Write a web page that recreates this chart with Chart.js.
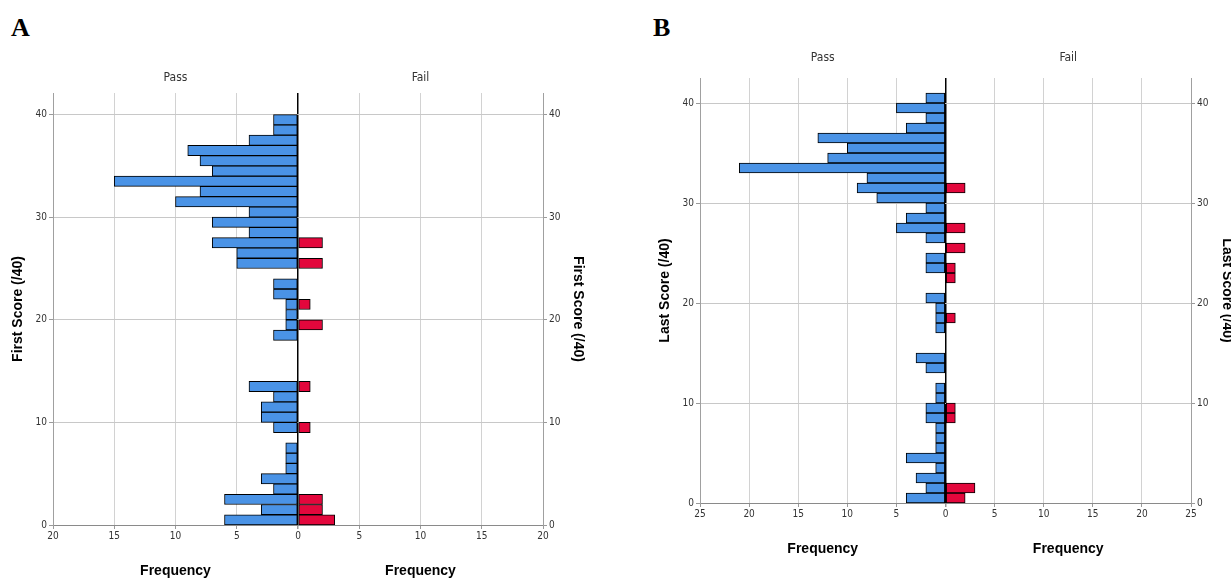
<!DOCTYPE html>
<html>
<head>
<meta charset="utf-8">
<script src="https://cdn.jsdelivr.net/npm/chart.js@4.4.1/dist/chart.umd.min.js"></script>
<style>
  html, body { margin: 0; padding: 0; background: #fff; overflow: hidden; width: 1231px; height: 581px; }
  .panel { position: absolute; }
  .tag { position: absolute; font: bold 26px 'Liberation Serif', 'Times New Roman', serif; color: #000; line-height: 30px; }
</style>
</head>
<body>
<div class="tag" style="left:11px; top:13px;">A</div>
<div class="tag" style="left:653px; top:13px;">B</div>
<div class="panel" style="left:0; top:62px; width:600px; height:519px;"><canvas id="chartA"></canvas></div>
<div class="panel" style="left:640px; top:41px; width:600px; height:524px;"><canvas id="chartB"></canvas></div>
<script>
'use strict';

// bar k covers the score k .. k+1
const yTicks = [0, 10, 20, 30, 40];
const sideLabels = ['Pass', 'Fail'];
const freqLabels = ['Frequency', 'Frequency'];

// panel A - first score
const firstPass = [6, 3, 6, 2, 3, 1, 1, 1, 0, 2, 3, 3, 2, 4, 0, 0, 0, 0, 2, 1,
                   1, 1, 2, 2, 0, 5, 5, 7, 4, 7, 4, 10, 8, 15, 7, 8, 9, 4, 2, 2];
const firstFail = [3, 2, 2, 0, 0, 0, 0, 0, 0, 1, 0, 0, 0, 1, 0, 0, 0, 0, 0, 2,
                   0, 1, 0, 0, 0, 2, 0, 2, 0, 0, 0, 0, 0, 0, 0, 0, 0, 0, 0, 0];
const firstXTicks = [-20, -15, -10, -5, 0, 5, 10, 15, 20];

// panel B - last score
const lastPass = [4, 2, 3, 1, 4, 1, 1, 1, 2, 2, 1, 1, 0, 2, 3, 0, 0, 1, 1, 1,
                  2, 0, 0, 2, 2, 0, 2, 5, 4, 2, 7, 9, 8, 21, 12, 10, 13, 4, 2, 5, 2];
const lastFail = [2, 3, 0, 0, 0, 0, 0, 0, 1, 1, 0, 0, 0, 0, 0, 0, 0, 0, 1, 0,
                  0, 0, 1, 1, 0, 2, 0, 2, 0, 0, 0, 2, 0, 0, 0, 0, 0, 0, 0, 0, 0];
const lastXTicks = [-25, -20, -15, -10, -5, 0, 5, 10, 15, 20, 25];

const passColor = '#4a93e6';
const failColor = '#e3073c';
const narrow = "'Liberation Sans Narrow', 'DejaVu Sans Condensed', sans-serif";
const boldFont = "'Liberation Sans', Arial, sans-serif";

//turn the counts into bars, zero count gives no bar
function toBars(counts, sign) {
    return counts.map((c, k) => ({ x: c ? sign * c : null, y: k + 0.5 }));
}

function barSet(label, counts, sign, color) {
    return {
        label: label,
        data: toBars(counts, sign),
        backgroundColor: color,
        borderColor: '#000',
        borderWidth: 1,
        borderSkipped: false,
        categoryPercentage: 1,
        barPercentage: 1,
        xAxisID: 'x',
        yAxisID: 'y'
    };
}

//only the 0,10,20,30,40 ticks on the score axes
function scoreTicks(sc) {
    sc.ticks = yTicks.map(v => ({ value: v }));
}

// s = box sizes: top, left, right, ticks row, freq row, and title paddings
function makePanel(id, pass, fail, xTicks, yMax, axisTitle, s) {
    const xMax = xTicks[xTicks.length - 1];
    return new Chart(document.getElementById(id), {
        type: 'bar',
        data: {
            datasets: [
                barSet(sideLabels[0], pass, -1, passColor),
                barSet(sideLabels[1], fail, 1, failColor)
            ]
        },
        options: {
            indexAxis: 'y',
            responsive: true,
            maintainAspectRatio: false,
            animation: false,
            layout: { padding: 0 },
            plugins: { legend: { display: false }, tooltip: { enabled: false } },
            scales: {
                x: {
                    type: 'linear', position: 'bottom', stacked: true,
                    min: -xMax, max: xMax,
                    afterBuildTicks: sc => { sc.ticks = xTicks.map(v => ({ value: v })); },
                    afterFit: sc => { sc.height = s.tickRow; },
                    ticks: { callback: v => Math.abs(v), padding: 1, maxRotation: 0, autoSkip: false,
                             color: '#333', font: { family: narrow, size: 10 } },
                    grid: {
                        color: c => (c.tick && c.tick.value === 0) ? '#000' : '#d2d2d2',
                        lineWidth: c => (c.tick && c.tick.value === 0) ? 1.5 : 1,
                        tickColor: '#9a9a9a', tickLength: 4
                    },
                    border: { color: '#8a8a8a' }
                },
                xf: {
                    type: 'category', position: 'bottom', labels: freqLabels, offset: true, weight: 1,
                    afterFit: sc => { sc.height = s.freqRow; },
                    ticks: { padding: s.freqPad, color: '#000', font: { family: boldFont, size: 14, weight: 'bold' } },
                    grid: { display: false, drawTicks: false },
                    border: { display: false }
                },
                xt: {
                    type: 'category', position: 'top', labels: sideLabels, offset: true,
                    afterFit: sc => { sc.height = s.top; },
                    ticks: { padding: s.topPad, color: '#333', font: { family: narrow, size: 12 } },
                    grid: { display: false, drawTicks: false },
                    border: { display: false }
                },
                y: {
                    type: 'linear', position: 'left', stacked: true, offset: false,
                    min: 0, max: yMax,
                    afterBuildTicks: scoreTicks,
                    afterFit: sc => { sc.width = s.left; },
                    ticks: { autoSkip: false, padding: 2, color: '#333', font: { family: narrow, size: 10 } },
                    grid: { offset: false, color: '#c8c8c8', tickColor: '#9a9a9a', tickLength: 4 },
                    border: { color: '#a0a0a0' },
                    title: { display: true, text: axisTitle, color: '#000', padding: { top: s.leftTitle, bottom: 0 },
                             font: { family: boldFont, size: 14, weight: 'bold' } }
                },
                y2: {
                    type: 'linear', position: 'right', offset: false,
                    min: 0, max: yMax,
                    afterBuildTicks: scoreTicks,
                    afterFit: sc => { sc.width = s.right; },
                    ticks: { autoSkip: false, padding: 2, color: '#333', font: { family: narrow, size: 10 } },
                    grid: { offset: false, drawOnChartArea: false, tickColor: '#9a9a9a', tickLength: 4 },
                    border: { color: '#a0a0a0' },
                    title: { display: true, text: axisTitle, color: '#000', padding: { top: s.rightTitle, bottom: 0 },
                             font: { family: boldFont, size: 14, weight: 'bold' } }
                }
            }
        }
    });
}

makePanel('chartA', firstPass, firstFail, firstXTicks, 42.1, 'First Score (/40)',
    { top: 31, topPad: 8, left: 53, right: 57, tickRow: 22, freqRow: 34, freqPad: 16, leftTitle: 10, rightTitle: 14 });
makePanel('chartB', lastPass, lastFail, lastXTicks, 42.5, 'Last Score (/40)',
    { top: 37, topPad: 13, left: 60, right: 49, tickRow: 22, freqRow: 40, freqPad: 16, leftTitle: 17, rightTitle: 5 });
</script>
</body>
</html>
